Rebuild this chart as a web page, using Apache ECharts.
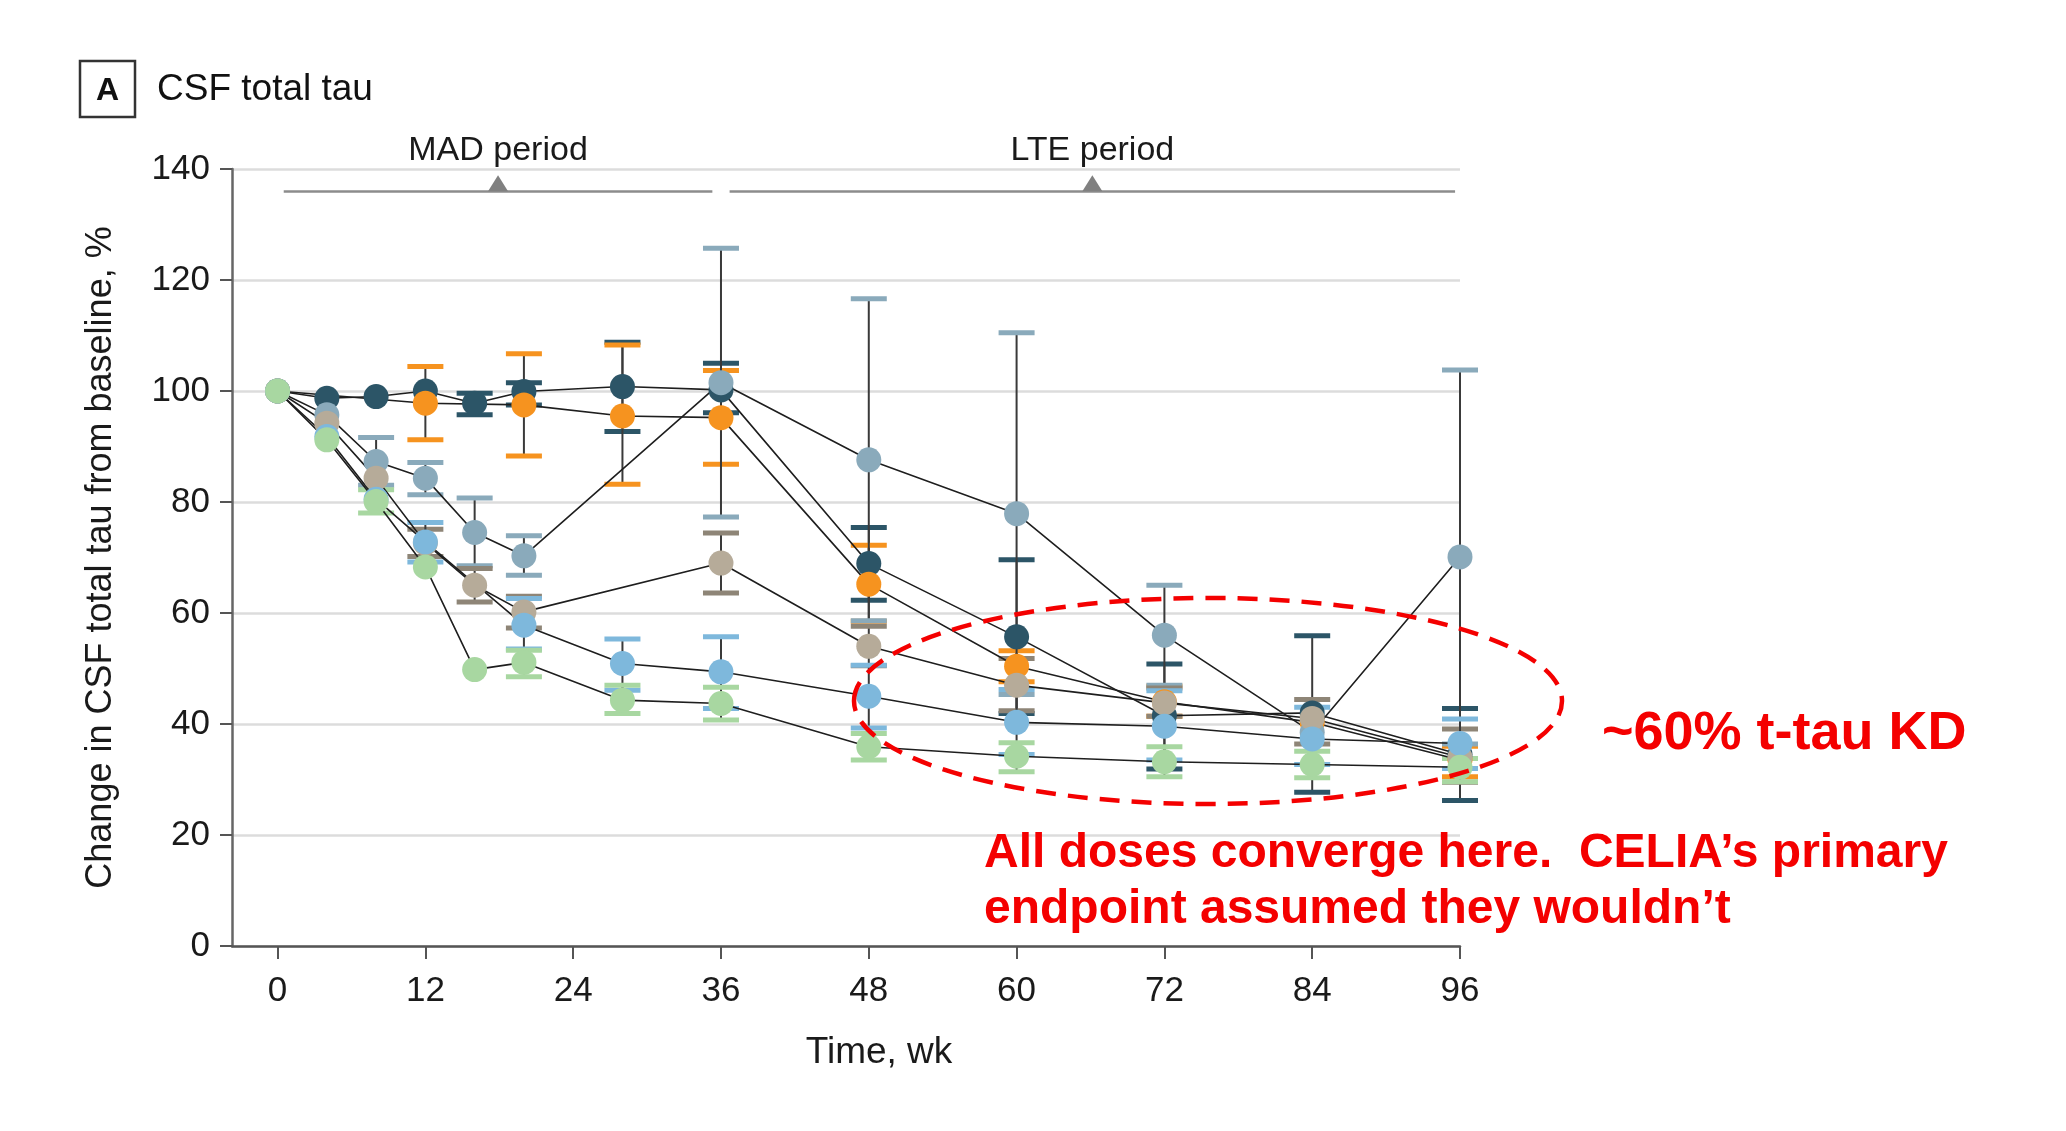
<!DOCTYPE html>
<html>
<head>
<meta charset="utf-8">
<title>CSF total tau</title>
<script src="https://cdn.jsdelivr.net/npm/echarts@6/dist/echarts.min.js"></script>
<style>
  html, body { margin: 0; padding: 0; background: #fff; }
  #chart { width: 2066px; height: 1131px; }
</style>
</head>
<body>
<div id="chart"></div>
<script>
// tick labels
var weekTicks = [0, 12, 24, 36, 48, 60, 72, 84, 96];

// dose groups: week, mean % of baseline, error bar low / high (null = no bar)
var navyWeeks = [0, 4, 8, 12, 16, 20, 28, 36, 48, 60, 72, 84, 96];
var navyMean  = [100, 98.7, 99.0, 100.0, 97.8, 99.9, 100.8, 100.2, 68.9, 55.7, 41.5, 42.0, 34.5];
var navyLow   = [null, null, null, null, 95.7, 97.5, 92.7, 96.1, 62.3, 41.9, 31.9, 27.7, 26.2];
var navyHigh  = [null, null, null, null, 99.6, 101.5, 108.8, 105.0, 75.4, 69.6, 50.8, 55.9, 42.8];

var orangeWeeks = [0, 12, 20, 28, 36, 48, 60, 72, 84, 96];
var orangeMean  = [100, 97.8, 97.5, 95.5, 95.2, 65.2, 50.4, 44.0, 40.3, 33.5];
var orangeLow   = [null, 91.2, 88.3, 83.2, 86.8, 58.5, 47.6, 41.4, null, 30.5];
var orangeHigh  = [null, 104.4, 106.7, 108.3, 103.7, 72.2, 53.2, 46.8, null, 36.0];

var greyWeeks = [0, 4, 8, 12, 16, 20, 36, 48, 60, 72, 84, 96];
var greyMean  = [100, 95.7, 87.3, 84.3, 74.5, 70.3, 101.5, 87.6, 77.9, 56.0, 38.5, 70.1];
var greyLow   = [null, null, 83.0, 81.3, 68.5, 66.8, 77.3, 58.6, 45.3, 47.0, null, 36.4];
var greyHigh  = [null, null, 91.6, 87.1, 80.7, 73.9, 125.7, 116.6, 110.5, 65.0, null, 103.8];

var tanWeeks = [0, 4, 8, 12, 16, 20, 36, 48, 60, 72, 84, 96];
var tanMean  = [100, 94.2, 84.3, 72.6, 65.0, 60.2, 69.0, 54.0, 47.0, 43.8, 41.0, 34.0];
var tanLow   = [null, null, null, 70.2, 62.0, 57.3, 63.6, 50.5, 42.4, 41.4, 36.4, 29.5];
var tanHigh  = [null, null, null, 75.1, 68.0, 63.0, 74.4, 57.6, 51.8, 46.5, 44.4, 39.1];

var blueWeeks = [0, 4, 8, 12, 20, 28, 36, 48, 60, 72, 84, 96];
var blueMean  = [100, 91.8, 80.5, 72.8, 57.8, 50.9, 49.4, 45.0, 40.3, 39.6, 37.3, 36.5];
var blueLow   = [null, null, null, 69.2, 53.5, 46.1, 42.8, 39.3, 34.5, 33.5, 32.7, 32.0];
var blueHigh  = [null, null, null, 76.3, 62.6, 55.3, 55.7, 50.6, 46.2, 46.0, 43.0, 40.9];

var greenWeeks = [0, 4, 8, 12, 16, 20, 28, 36, 48, 60, 72, 84, 96];
var greenMean  = [100, 91.2, 80.1, 68.3, 49.8, 51.1, 44.3, 43.7, 35.9, 34.2, 33.2, 32.7, 32.2];
var greenLow   = [null, null, 78.0, null, null, 48.5, 41.9, 40.7, 33.5, 31.4, 30.5, 30.3, 29.6];
var greenHigh  = [null, null, 82.2, null, null, 53.3, 47.0, 46.6, 38.3, 36.6, 35.9, 35.1, 33.8];

// study periods shown above the plot
var periodNames = ['MAD period', 'LTE period'];
var periodStart = [0.5, 36.7];
var periodEnd   = [35.3, 95.6];
var periodLevel = 136;

var FONT = '"Liberation Sans", Arial, sans-serif';
var RED = '#f40000';

var chart = echarts.init(document.getElementById('chart'), null, {renderer: 'canvas'});

function errorSeries(weeks, low, high, capColor) {
  var data = [];
  weeks.forEach(function(w, i) {
    if (low[i] != null) data.push([w, low[i], high[i]]);
  });
  return {
    type: 'custom',
    z: 1,
    silent: true,
    data: data,
    encode: {x: 0, y: [1, 2]},
    renderItem: function(params, api) {
      var lo = api.coord([api.value(0), api.value(1)]);
      var hi = api.coord([api.value(0), api.value(2)]);
      var half = 18;
      return {
        type: 'group',
        children: [
          {type: 'line', shape: {x1: lo[0], y1: lo[1], x2: hi[0], y2: hi[1]},
           style: {stroke: '#3a3a3a', lineWidth: 2}},
          {type: 'line', shape: {x1: hi[0] - half, y1: hi[1], x2: hi[0] + half, y2: hi[1]},
           style: {stroke: capColor, lineWidth: 5}},
          {type: 'line', shape: {x1: lo[0] - half, y1: lo[1], x2: lo[0] + half, y2: lo[1]},
           style: {stroke: capColor, lineWidth: 5}}
        ]
      };
    }
  };
}

function meanSeries(weeks, mean, color) {
  return {
    type: 'line',
    z: 3,
    data: weeks.map(function(w, i) { return [w, mean[i]]; }),
    symbol: 'circle',
    symbolSize: 25,
    showAllSymbol: true,
    itemStyle: {color: color, opacity: 1},
    lineStyle: {color: '#1e1e1e', width: 1.6},
    emphasis: {disabled: true}
  };
}

var groups = [
  [navyWeeks, navyMean, navyLow, navyHigh, '#2c5567', '#2c5567'],
  [orangeWeeks, orangeMean, orangeLow, orangeHigh, '#f6931f', '#f6931f'],
  [greyWeeks, greyMean, greyLow, greyHigh, '#8aaabb', '#8aaabb'],
  [tanWeeks, tanMean, tanLow, tanHigh, '#b6ab99', '#8e8577'],
  [blueWeeks, blueMean, blueLow, blueHigh, '#7eb8dc', '#7eb8dc'],
  [greenWeeks, greenMean, greenLow, greenHigh, '#a8d7a1', '#a8d7a1']
];

var series = [];
groups.forEach(function(g) { series.push(errorSeries(g[0], g[2], g[3], g[5])); });
groups.forEach(function(g) { series.push(meanSeries(g[0], g[1], g[4])); });

// period brackets
series.push({
  type: 'line',
  data: [],
  silent: true,
  markLine: {
    symbol: 'none',
    silent: true,
    label: {show: false},
    lineStyle: {color: '#8c8c8c', width: 2.5, type: 'solid'},
    data: periodNames.map(function(n, i) {
      return [{coord: [periodStart[i], periodLevel]}, {coord: [periodEnd[i], periodLevel]}];
    })
  },
  markPoint: {
    symbol: 'triangle',
    symbolSize: [20, 16],
    symbolOffset: [0, -8],
    silent: true,
    itemStyle: {color: '#808080'},
    label: {
      show: true, position: 'top', distance: 8, formatter: '{b}',
      color: '#1a1a1a', fontSize: 34, fontFamily: FONT
    },
    data: periodNames.map(function(n, i) {
      return {name: n, coord: [(periodStart[i] + periodEnd[i]) / 2, periodLevel]};
    })
  }
});

var option = {
  backgroundColor: '#ffffff',
  animation: false,
  textStyle: {fontFamily: FONT},
  grid: {left: 232, right: 606, top: 169, bottom: 185, containLabel: false},
  xAxis: {
    type: 'value',
    min: -3.7,
    max: 96,
    name: 'Time, wk',
    nameLocation: 'middle',
    nameGap: 88,
    nameTextStyle: {fontSize: 37, color: '#1a1a1a', padding: [0, 0, 0, 66], verticalAlign: 'top'},
    axisLine: {show: true, onZero: false, lineStyle: {color: '#555', width: 2.5}},
    axisTick: {show: true, length: 13, customValues: weekTicks, lineStyle: {color: '#555', width: 2}},
    axisLabel: {customValues: weekTicks, margin: 28, fontSize: 35, color: '#1a1a1a'},
    splitLine: {show: false}
  },
  yAxis: {
    type: 'value',
    min: 0,
    max: 140,
    interval: 20,
    name: 'Change in CSF total tau from baseline, %',
    nameLocation: 'middle',
    nameGap: 113,
    nameTextStyle: {fontSize: 36, color: '#1a1a1a'},
    axisLine: {show: true, onZero: false, lineStyle: {color: '#666', width: 2.5}},
    axisTick: {show: true, length: 12, lineStyle: {color: '#555', width: 2}},
    axisLabel: {margin: 22, fontSize: 35, color: '#1a1a1a'},
    splitLine: {show: true, lineStyle: {color: '#dcdcdc', width: 2.5}}
  },
  graphic: [
    {type: 'rect', shape: {x: 80, y: 61, width: 55, height: 56},
     style: {fill: '#fff', stroke: '#333', lineWidth: 2.5}},
    {type: 'text', x: 107.5, y: 91,
     style: {text: 'A', fontSize: 32, fontWeight: 'bold', fontFamily: FONT, fill: '#111',
             align: 'center', verticalAlign: 'middle'}},
    {type: 'text', x: 157, y: 90,
     style: {text: 'CSF total tau', fontSize: 37, fontFamily: FONT, fill: '#111',
             align: 'left', verticalAlign: 'middle'}},
    // annotation
    {type: 'ellipse', z: 100, shape: {cx: 1208, cy: 701, rx: 354, ry: 103},
     style: {fill: 'none', stroke: RED, lineWidth: 4.5, lineDash: [20, 12]}},
    {type: 'text', z: 100, x: 1602, y: 734,
     style: {text: '~60% t-tau KD', fontSize: 54, fontWeight: 'bold', fontFamily: FONT, fill: RED,
             align: 'left', verticalAlign: 'middle'}},
    {type: 'text', z: 100, x: 984, y: 854,
     style: {text: 'All doses converge here.  CELIA\u2019s primary', fontSize: 48, fontWeight: 'bold',
             fontFamily: FONT, fill: RED, align: 'left', verticalAlign: 'middle'}},
    {type: 'text', z: 100, x: 984, y: 910,
     style: {text: 'endpoint assumed they wouldn\u2019t', fontSize: 48, fontWeight: 'bold',
             fontFamily: FONT, fill: RED, align: 'left', verticalAlign: 'middle'}}
  ],
  series: series
};

chart.setOption(option);
</script>
</body>
</html>
